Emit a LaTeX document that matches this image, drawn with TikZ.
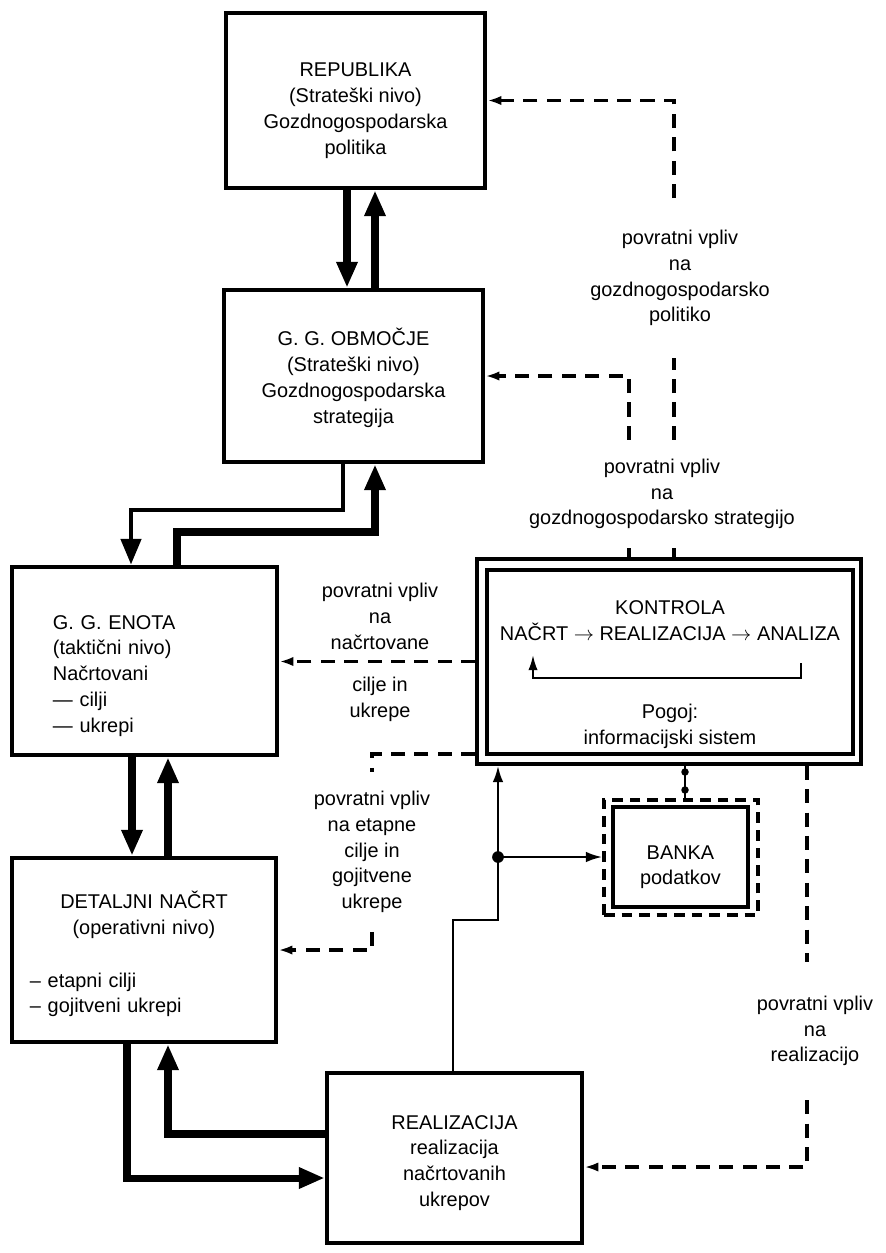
\documentclass[tikz,border=0pt]{standalone}
\usepackage{fontspec}
\setmainfont{Liberation Sans}
\usetikzlibrary{arrows.meta}

\tikzset{
  blok/.style={draw, line width=4pt, align=center, inner sep=0pt,
    font=\fontsize{17}{22}\selectfont},
  napis/.style={align=center, inner xsep=0pt, font=\fontsize{17}{22}\selectfont},
  tok/.style={line width=6pt, -{Triangle[length=22pt,width=17pt]}},
  tanka/.style={line width=2.2pt, -{Latex[length=14pt,width=9pt]}},
  povr/.style={line width=2.6pt, dash pattern=on 12pt off 8pt},
  povrvrh/.style={povr, -{Latex[length=12pt,width=8pt]}}
}

\begin{document}
\begin{tikzpicture}[x=0.03cm, y=-0.03cm]
\useasboundingbox (0,0) rectangle (885,1253);
% The boxes, placed at coordinates
\node[blok, minimum width=7.77cm, minimum height=5.25cm] (republika) at (355.5,100.5)
  {\rule{0pt}{29pt}REPUBLIKA\\(Strateški nivo)\\Gozdnogospodarska\\politika};
\node[blok, minimum width=7.77cm, minimum height=5.16cm] (obmocje) at (353.5,376)
  {\rule{0pt}{18pt}G. G. OBMOČJE\\(Strateški nivo)\\Gozdnogospodarska\\strategija};
\node[blok, minimum width=7.95cm, minimum height=5.64cm, align=left,
  text width=5.49cm, inner xsep=1.23cm] (enota) at (144.5,661)
  {\rule{0pt}{37pt}G. G. ENOTA\\(taktični nivo)\\Načrtovani\\--- cilji\\--- ukrepi};
\node[blok, minimum width=7.92cm, minimum height=5.52cm,
  text width=6.84cm, inner xsep=0.54cm] (detajl) at (144,950)
  {\rule{0pt}{22pt}DETALJNI NAČRT\\(operativni nivo)\\[23pt]\makebox[6.84cm][l]{-- etapni cilji}\\\makebox[6.84cm][l]{-- gojitveni ukrepi}};
\node[blok, minimum width=7.65cm, minimum height=5.1cm] (realiz) at (454.5,1158)
  {\rule{0pt}{20pt}REALIZACIJA\\realizacija\\načrtovanih\\ukrepov};
% Double frame of the control box
\node[draw, line width=2.8pt, minimum width=11.52cm, minimum height=6.15cm] (kontrola) at (669,661.5) {};
\node[blok, line width=3.2pt, minimum width=10.98cm, minimum height=5.52cm] (kontrolain) at (670,662)
  {\rule{0pt}{33pt}KONTROLA\\NAČRT $\rightarrow$ REALIZACIJA $\rightarrow$ ANALIZA\\[45pt]Pogoj:\\informacijski sistem};
\node[draw, line width=2.8pt, dash pattern=on 9pt off 6pt, minimum width=4.62cm, minimum height=3.45cm] (bankaout) at (681,857.5) {};
\node[blok, line width=2.8pt, minimum width=4.05cm, minimum height=3cm] (banka) at (680.5,857)
  {\rule{0pt}{29pt}BANKA\\podatkov};

% Labels of the feedback lines
\node[napis, inner ysep=27pt] (polit) at (680,278) {povratni vpliv\\na\\gozdnogospodarsko\\politiko};
\node[napis, inner ysep=16pt] (strat) at (662,494) {povratni vpliv\\na\\gozdnogospodarsko strategijo};
\node[napis, inner sep=0pt, anchor=north] (nacrt) at (380,583) {povratni vpliv\\na\\načrtovane\\[14pt]cilje in\\ukrepe};
\node[napis, inner ysep=16pt] (etapne) at (372,852) {povratni vpliv\\na etapne\\cilje in\\gojitvene\\ukrepe};
\node[napis, inner ysep=29pt] (rzlab) at (815,1031) {povratni vpliv\\na\\realizacijo};

% Main flows between the levels
\draw[tok] (republika.south -| 347,0) -- (obmocje.north -| 347,0);
\draw[tok] (obmocje.north -| 375,0) -- (republika.south -| 375,0);
\draw[tok, line width=4pt] (obmocje.south -| 343,0) |- (131,510) -- (enota.north -| 131,0);
\draw[tok] (enota.north -| 177,0) |- (375,532) -- (obmocje.south -| 375,0);
\draw[tok] (enota.south -| 132,0) -- (detajl.north -| 132,0);
\draw[tok] (detajl.north -| 168,0) -- (enota.south -| 168,0);
\draw[tok] (realiz.west |- 0,1134) -| (detajl.south -| 168,0);
\draw[tok] (detajl.south -| 127,0) |- (realiz.west |- 0,1178);

% Realization to control and data bank
\coordinate (vozel) at (498,857);
\draw[tanka] (realiz.north -| 453,0) |- (vozel |- 0,920) -- (kontrola.south -| vozel);
\fill (vozel) circle (5pt);
\draw[tanka] (vozel) -- (bankaout.west |- vozel);
\draw[line width=2pt] (kontrola.south -| 685,0) -- (bankaout.north -| 685,0);
\foreach \y in {772,790}
  \fill (685,\y) circle (3.2pt);

% Loop inside the control box
\coordinate (analiza) at (801,663);
\coordinate (nacrtpod) at (533,655);
\draw[line width=1.8pt, -{Latex[length=13pt,width=8pt]}] (analiza) -- ++(0,15) -| (nacrtpod);

% Feedback (dashed)
\draw[povrvrh] (polit.north -| 674,0) |- (republika.east);
\draw[povr] (strat.north -| 674,0) -- (polit.south -| 674,0);
\draw[povr] (kontrola.north -| 674,0) -- (strat.south -| 674,0);
\draw[povrvrh] (strat.north -| 629,0) |- (obmocje.east);
\draw[povr] (kontrola.north -| 629,0) -- (strat.south -| 629,0);
\draw[povrvrh] (kontrola.west) -- (enota.east |- kontrola.west);
\draw[povr] (kontrola.west |- 0,754) -| (etapne.north);
\draw[povrvrh] (etapne.south) |- (detajl.east);
\draw[povr] (kontrola.south -| 807,0) -- (rzlab.north -| 807,0);
\draw[povrvrh] (rzlab.south -| 807,0) |- (realiz.east |- 0,1167);
\end{tikzpicture}
\end{document}
